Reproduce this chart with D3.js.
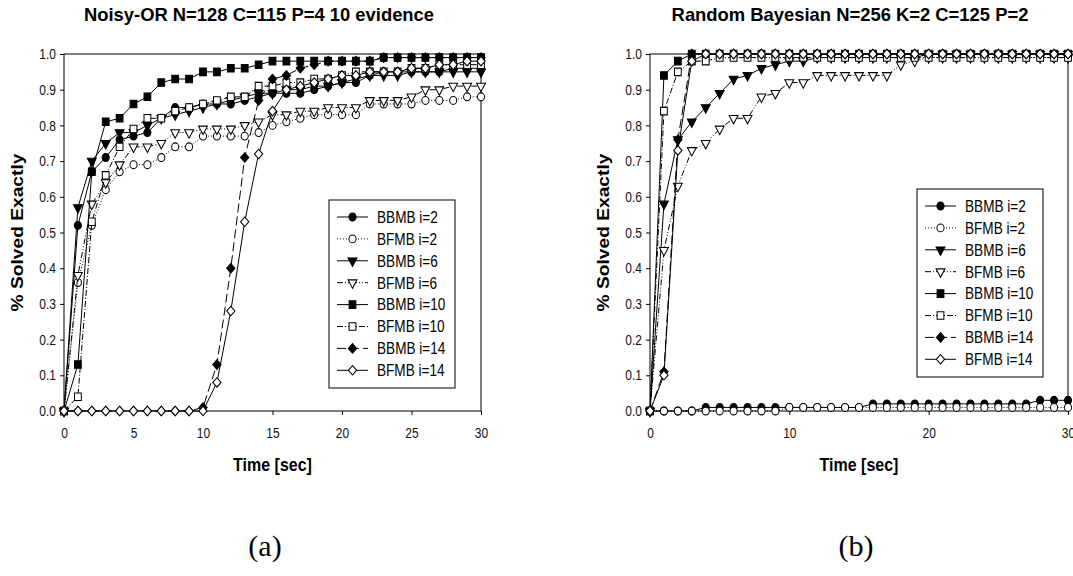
<!DOCTYPE html>
<html>
<head>
<meta charset="utf-8">
<script src="https://cdn.jsdelivr.net/npm/d3@7"></script>
<style>
body { margin: 0; background: #fff; }
svg { font-family: "Liberation Sans", Arial, sans-serif; }
</style>
</head>
<body>
<svg id="chart" width="1073" height="576"></svg>
<script>
// data
const seriesNames = ["BBMB i=2", "BFMB i=2", "BBMB i=6", "BFMB i=6", "BBMB i=10", "BFMB i=10", "BBMB i=14", "BFMB i=14"];
const times = [0, 1, 2, 3, 4, 5, 6, 7, 8, 9, 10, 11, 12, 13, 14, 15, 16, 17, 18, 19, 20, 21, 22, 23, 24, 25, 26, 27, 28, 29, 30];
const yTicks = [0, 0.1, 0.2, 0.3, 0.4, 0.5, 0.6, 0.7, 0.8, 0.9, 1.0];
const xTicksA = [0, 5, 10, 15, 20, 25, 30];
const xTicksB = [0, 10, 20, 30];

// (a) Noisy-OR
const noisyBBMB2 = [0, .52, .67, .71, .76, .77, .78, .82, .85, .85, .86, .86, .86, .87, .88, .89, .89, .89, .90, .91, .92, .92, .94, .95, .95, .95, .95, .95, .96, .96, .96];
const noisyBFMB2 = [0, .36, .52, .62, .67, .69, .69, .71, .74, .74, .77, .77, .77, .77, .78, .80, .81, .82, .83, .83, .83, .83, .86, .86, .86, .86, .87, .87, .87, .88, .88];
const noisyBBMB6 = [0, .57, .70, .75, .78, .78, .80, .82, .83, .84, .85, .86, .87, .88, .89, .89, .90, .90, .91, .91, .92, .93, .94, .94, .94, .95, .95, .95, .95, .95, .95];
const noisyBFMB6 = [0, .38, .58, .64, .69, .74, .74, .75, .78, .78, .79, .79, .79, .80, .81, .83, .83, .84, .84, .85, .85, .85, .87, .87, .87, .88, .90, .90, .91, .91, .91];
const noisyBBMB10 = [0, .13, .67, .81, .82, .86, .88, .92, .93, .93, .95, .95, .96, .96, .97, .98, .98, .98, .98, .98, .98, .98, .98, .99, .99, .99, .99, .99, .99, .99, .99];
const noisyBFMB10 = [0, .04, .53, .66, .74, .79, .82, .82, .84, .85, .86, .87, .88, .88, .91, .91, .92, .92, .93, .93, .94, .95, .95, .95, .95, .96, .96, .97, .97, .97, .97];
const noisyBBMB14 = [0, 0, 0, 0, 0, 0, 0, 0, 0, 0, .01, .13, .40, .71, .87, .93, .94, .96, .97, .98, .98, .98, .98, .99, .99, .99, .99, .99, .99, .99, .99];
const noisyBFMB14 = [0, 0, 0, 0, 0, 0, 0, 0, 0, 0, 0, .08, .28, .53, .72, .84, .90, .91, .92, .93, .94, .94, .95, .95, .95, .96, .96, .97, .97, .98, .98];

// (b) Random Bayesian
const bayesBBMB2 = [0, 0, 0, 0, .01, .01, .01, .01, .01, .01, .01, .01, .01, .01, .01, .01, .02, .02, .02, .02, .02, .02, .02, .02, .02, .02, .02, .02, .03, .03, .03];
const bayesBFMB2 = [0, 0, 0, 0, 0, 0, 0, 0, 0, 0, .01, .01, .01, .01, .01, .01, .01, .01, .01, .01, .01, .01, .01, .01, .01, .01, .01, .01, .01, .01, .01];
const bayesBBMB6 = [0, .58, .76, .81, .85, .89, .93, .94, .96, .97, .98, .98, .99, .99, .99, .99, .99, .99, .99, .99, 1, 1, 1, 1, 1, 1, 1, 1, 1, 1, 1];
const bayesBFMB6 = [0, .45, .63, .73, .75, .79, .82, .82, .88, .89, .92, .92, .94, .94, .94, .94, .94, .94, .97, .98, .99, .99, .99, .99, .99, .99, .99, .99, .99, .99, .99];
const bayesBBMB10 = [0, .94, .98, 1, 1, 1, 1, 1, 1, 1, 1, 1, 1, 1, 1, 1, 1, 1, 1, 1, 1, 1, 1, 1, 1, 1, 1, 1, 1, 1, 1];
const bayesBFMB10 = [0, .84, .95, .98, .98, .99, .99, .99, .99, .99, .99, .99, .99, .99, .99, .99, .99, .99, .99, .99, .99, .99, .99, .99, .99, .99, .99, .99, .99, .99, .99];
const bayesBBMB14 = [0, .11, .76, 1, 1, 1, 1, 1, 1, 1, 1, 1, 1, 1, 1, 1, 1, 1, 1, 1, 1, 1, 1, 1, 1, 1, 1, 1, 1, 1, 1];
const bayesBFMB14 = [0, .10, .73, .98, 1, 1, 1, 1, 1, 1, 1, 1, 1, 1, 1, 1, 1, 1, 1, 1, 1, 1, 1, 1, 1, 1, 1, 1, 1, 1, 1];

// marker / line look per series (same order as seriesNames)
const markerKind = ["circle", "circle", "down", "down", "square", "square", "diamond", "diamond"];
const markerFilled = [true, false, true, false, true, false, true, false];
const lineDash = [null, "1,2", null, "6,2,1,2,1,2", null, "6,2,1,2", "9,4", null];

const svg = d3.select("#chart");

function markerPath(kind) {
    if (kind === "circle") return d3.symbol(d3.symbolCircle, 40)();
    if (kind === "square") return d3.symbol(d3.symbolSquare, 46)();
    if (kind === "diamond") return d3.symbol(d3.symbolSquare, 34)();
    return d3.symbol(d3.symbolTriangle, 34)();
}

function markerTransform(kind, x, y) {
    if (kind === "down") return `translate(${x},${y}) rotate(180) scale(1,1.1)`;
    if (kind === "diamond") return `translate(${x},${y}) scale(1,1.15) rotate(45)`;
    return `translate(${x},${y}) scale(1,1.1)`;
}

function drawChart(cfg) {
    const g = svg.append("g");
    const x = d3.scaleLinear().domain([0, 30]).range([cfg.left, cfg.right]);
    const y = d3.scaleLinear().domain([0, 1]).range([cfg.bottom, cfg.top]);

    // title
    g.append("text")
        .attr("x", cfg.titleX)
        .attr("y", 21)
        .attr("text-anchor", "middle")
        .attr("font-size", "18.4px")
        .attr("font-weight", "bold")
        .text(cfg.title);

    const xAxis = g.append("g")
        .attr("transform", `translate(0,${cfg.bottom})`)
        .call(d3.axisBottom(x).tickValues(cfg.xTicks).tickSize(4).tickSizeOuter(0).tickPadding(10).tickFormat(d3.format("d")));
    const yAxis = g.append("g")
        .attr("transform", `translate(${cfg.left},0)`)
        .call(d3.axisLeft(y).tickValues(yTicks).tickSize(4).tickSizeOuter(0).tickPadding(4).tickFormat(d3.format(".1f")));

    [xAxis, yAxis].forEach(a => {
        a.select(".domain").remove();
        a.selectAll(".tick line").attr("stroke", "#000");
        a.selectAll(".tick text")
            .attr("font-family", "Liberation Sans, Arial, sans-serif")
            .attr("font-size", "12px")
            .attr("fill", "#111")
            .attr("transform", "scale(1,1.2)");
    });

    // plot frame
    g.append("rect")
        .attr("x", cfg.left)
        .attr("y", cfg.top)
        .attr("width", cfg.right - cfg.left)
        .attr("height", cfg.bottom - cfg.top)
        .attr("fill", "none")
        .attr("stroke", "#000")
        .attr("stroke-width", 1);

    // axis titles
    g.append("text")
        .attr("transform", `translate(${(cfg.left + cfg.right) / 2},471) scale(1,1.2)`)
        .attr("text-anchor", "middle")
        .attr("font-size", "16px")
        .attr("font-weight", "bold")
        .text("Time [sec]");
    g.append("text")
        .attr("transform", `translate(${cfg.left - 41},${(cfg.top + cfg.bottom) / 2}) scale(1,1.2) rotate(-90)`)
        .attr("text-anchor", "middle")
        .attr("font-size", "16px")
        .attr("font-weight", "bold")
        .text("% Solved Exactly");

    const line = d3.line()
        .x((d, i) => x(times[i]))
        .y(d => y(d));

    cfg.series.forEach((values, si) => {
        g.append("path")
            .datum(values)
            .attr("d", line)
            .attr("fill", "none")
            .attr("stroke", "#000")
            .attr("stroke-width", 1)
            .attr("stroke-dasharray", lineDash[si]);

        g.selectAll(null)
            .data(values)
            .enter()
            .append("path")
            .attr("d", markerPath(markerKind[si]))
            .attr("transform", (d, i) => markerTransform(markerKind[si], x(times[i]), y(d)))
            .attr("fill", markerFilled[si] ? "#000" : "#fff")
            .attr("stroke", "#000")
            .attr("stroke-width", 1);
    });

    // legend
    const lg = g.append("g").attr("transform", `translate(${cfg.legendX},${cfg.legendY})`);
    lg.append("rect")
        .attr("width", 126)
        .attr("height", 188)
        .attr("fill", "#fff")
        .attr("stroke", "#000");

    seriesNames.forEach((name, si) => {
        const ry = 17 + si * 21.9;
        lg.append("line")
            .attr("x1", 8).attr("x2", 39)
            .attr("y1", ry).attr("y2", ry)
            .attr("stroke", "#000")
            .attr("stroke-dasharray", lineDash[si]);
        lg.append("path")
            .attr("d", markerPath(markerKind[si]))
            .attr("transform", markerTransform(markerKind[si], 23.5, ry))
            .attr("fill", markerFilled[si] ? "#000" : "#fff")
            .attr("stroke", "#000");
        lg.append("text")
            .attr("transform", `translate(48,${ry}) scale(1,1.2)`)
            .attr("dy", "0.36em")
            .attr("font-size", "13.6px")
            .text(name);
    });

    // panel caption
    g.append("text")
        .attr("x", cfg.captionX)
        .attr("y", 556)
        .attr("text-anchor", "middle")
        .attr("font-family", "Liberation Serif, serif")
        .attr("font-size", "30px")
        .text(cfg.caption);
}

drawChart({
    left: 64, right: 481, top: 54, bottom: 411,
    title: "Noisy-OR N=128 C=115 P=4 10 evidence", titleX: 259,
    xTicks: xTicksA,
    series: [noisyBBMB2, noisyBFMB2, noisyBBMB6, noisyBFMB6, noisyBBMB10, noisyBFMB10, noisyBBMB14, noisyBFMB14],
    legendX: 329, legendY: 200,
    caption: "(a)", captionX: 265
});

drawChart({
    left: 650, right: 1068, top: 54, bottom: 411,
    title: "Random Bayesian N=256 K=2 C=125 P=2", titleX: 850,
    xTicks: xTicksB,
    series: [bayesBBMB2, bayesBFMB2, bayesBBMB6, bayesBFMB6, bayesBBMB10, bayesBFMB10, bayesBBMB14, bayesBFMB14],
    legendX: 917, legendY: 189,
    caption: "(b)", captionX: 856
});
</script>
</body>
</html>
